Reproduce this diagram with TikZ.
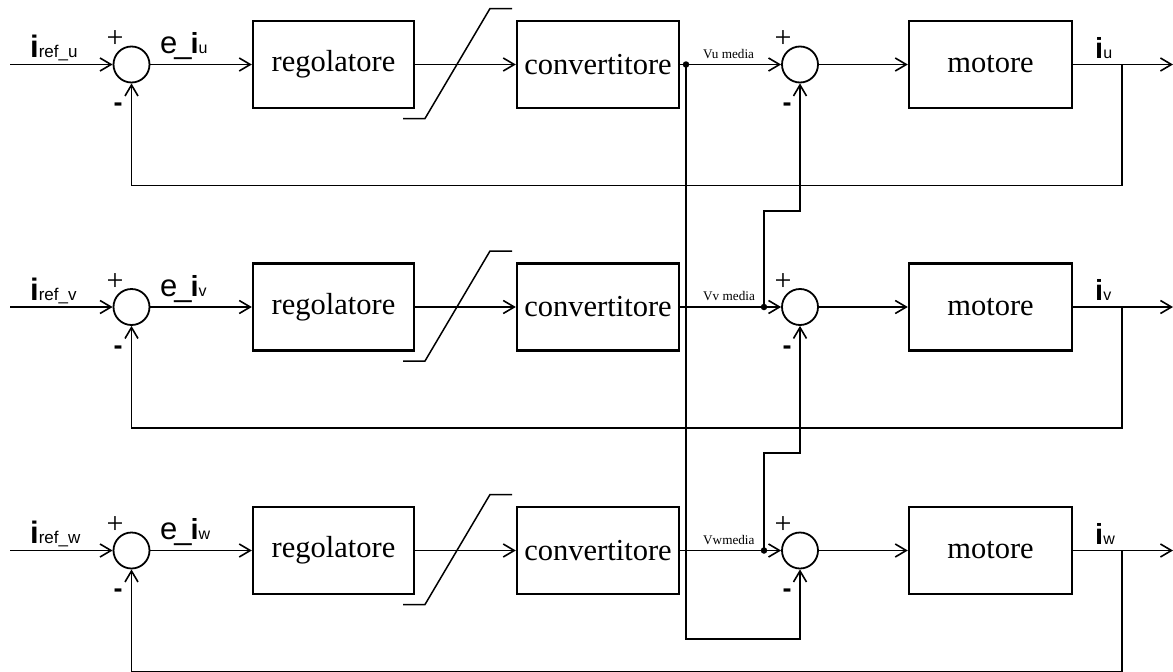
\documentclass[tikz,border=0pt]{standalone}
\usepackage{fontspec}
\setmainfont{Liberation Serif}
\setsansfont{Liberation Sans}
\usetikzlibrary{arrows.meta}

\newcommand\fs[1]{\fontsize{#1}{#1}\selectfont}

\tikzset{
  sig/.style={line width=1.5pt},
  fb/.style={line width=1.8pt},
  bus/.style={line width=2.2pt},
  blk/.style={draw, line width=2.4pt, minimum width=161pt, minimum height=87pt,
              inner sep=0pt, font=\fs{30.5}},
  sum/.style={draw, circle, line width=1.8pt, minimum size=36pt, inner sep=0pt},
  jdot/.style={circle, fill, inner sep=0pt, minimum size=6.5pt},
  tip/.style={-{Straight Barb[length=11pt,width=13pt,line width=1.6pt]}},
  plus/.style={font=\fs{30}, inner sep=0pt},
  minus/.style={font=\sffamily\bfseries\fs{27}, inner sep=0pt},
  vlab/.style={font=\fs{13.2}, anchor=base west, inner sep=0pt},
  slab/.style={anchor=base west, inner sep=0pt, font=\sffamily},
}

\begin{document}
\begin{tikzpicture}[x=1pt,y=-1pt]
\useasboundingbox (0,0) rectangle (1173,672);

% three identical current loops (phases u, v, w)
\foreach \r/\y/\jx/\vl in {u/64.5/686/{Vu media}, v/307/764/{Vv media}, w/550.5/764/{Vwmedia}} {
  \coordinate (in\r) at (10,\y);
  \node[sum] (sa\r) at (131.5,\y) {};
  \node[blk] (reg\r) at (333.5,\y) {regolatore};
  \node[blk, minimum width=162pt] (conv\r) at (598,\y) {convertitore};
  \node[jdot] (j\r) at (\jx,\y) {};
  \node[sum] (sb\r) at (800,\y) {};
  \node[blk, minimum width=163pt] (mot\r) at (990.5,\y) {motore};
  \coordinate (br\r) at (1122,\y);
  \coordinate (out\r) at (1173,\y);
  \coordinate (fr\r) at (1122,\y+121);

  % labels
  \node[slab] at (30,\y-7) {{\bfseries\fs{31}i}{\fs{17}ref\_\r}};
  \node[slab] at (160,\y-11) {{\fs{31}e\kern-3pt\_\kern-1pt}{\bfseries\fs{29}i}{\fs{16}\r}};
  \node[slab] at (1095,\y-6.5) {{\bfseries\fs{29}i}{\fs{16}\r}};
  \node[vlab] at (703,\y-6.5) {\vl};
  \node[plus] at (115,\y-25) {+};
  \node[plus] at (783,\y-25) {+};
  \node[minus] at (118,\y+43) {-};
  \node[minus] at (787,\y+43) {-};

  % forward path
  \draw[sig,tip] (in\r) -- (sa\r.west);
  \draw[sig,tip] (sa\r.east) -- (reg\r.west);
  \draw[sig,tip] (reg\r.east) -- (conv\r.west);
  \draw[sig,tip] (conv\r.east) -- (sb\r.west);
  \draw[sig,tip] (sb\r.east) -- (mot\r.west);
  \draw[sig,tip] (mot\r.east) -- (out\r);

  % saturation characteristic
  \draw[sig] (403,\y+54) -- (425,\y+54) -- (490,\y-56) -- (512,\y-56);

  % current feedback
  \draw[fb,tip] (br\r) -- (fr\r) -| (sa\r.south);
}

% average voltages routed to the neighbouring phase
\coordinate (ku) at (686,639);
\coordinate (kv) at (764,211);
\coordinate (kw) at (764,453);
\draw[bus,tip] (ju.center) -- (ku) -| (sbw.south);
\draw[bus,tip] (jv.center) -- (kv) -| (sbu.south);
\draw[bus,tip] (jw.center) -- (kw) -| (sbv.south);
\end{tikzpicture}
\end{document}
